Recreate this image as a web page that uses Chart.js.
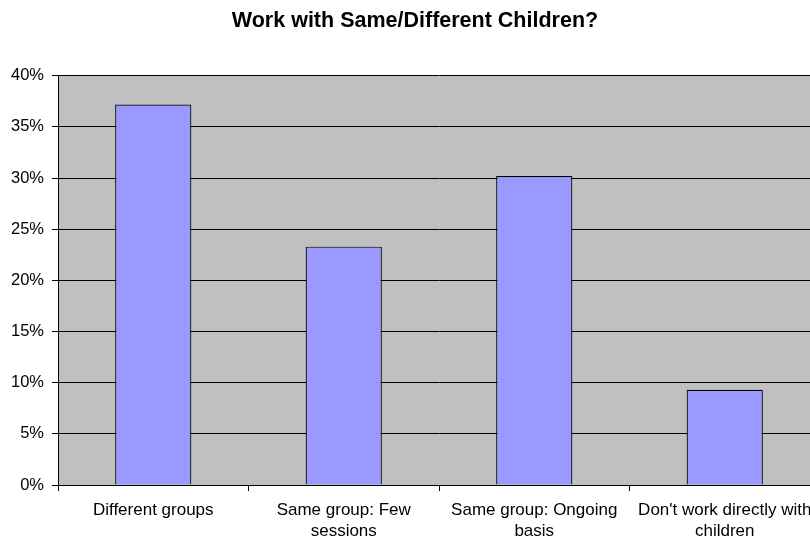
<!DOCTYPE html>
<html>
<head>
<meta charset="utf-8">
<script src="https://cdn.jsdelivr.net/npm/chart.js@4/dist/chart.umd.min.js"></script>
<style>
    html, body { margin: 0; padding: 0; background: #fff; overflow: hidden; }
    #wrap { width: 830px; height: 537px; }
</style>
</head>
<body>
<div id="wrap"><canvas id="childrenChart" width="830" height="537"></canvas></div>
<script>
var categories = [
    "Different groups",
    ["Same group: Few", "sessions"],
    ["Same group: Ongoing", "basis"],
    ["Don't work directly with", "children"]
];
var percentValues = [37.2, 23.3, 30.2, 9.3];
var yTicks = [0, 5, 10, 15, 20, 25, 30, 35, 40];

// grey plot background behind the bars
var plotBackground = {
    id: 'plotBackground',
    beforeDraw: function (chart) {
        var ctx = chart.ctx;
        var a = chart.chartArea;
        ctx.save();
        ctx.fillStyle = '#C0C0C0';
        ctx.fillRect(a.left, a.top, a.right - a.left, a.bottom - a.top);
        ctx.restore();
    }
};

Chart.defaults.font.family = "'Liberation Sans', Arial, sans-serif";
Chart.defaults.color = '#000';

var childrenChart = new Chart("childrenChart", {
    type: "bar",
    data: {
        labels: categories,
        datasets: [{
            label: "Percent",
            data: percentValues,
            backgroundColor: '#9999FF',
            borderColor: '#000',
            borderWidth: 1.2,
            categoryPercentage: 1,
            barPercentage: 0.4
        }]
    },
    options: {
        responsive: false,
        animation: false,
        layout: { padding: 0 },
        plugins: {
            legend: { display: false },
            tooltip: { enabled: false },
            title: {
                display: true,
                text: "Work with Same/Different Children?",
                color: '#000',
                font: { size: 21.5, weight: 'bold' },
                padding: { top: 8, bottom: 42 }
            }
        },
        scales: {
            x: {
                afterFit: function (scale) { scale.height = 52; },
                border: { display: true, color: '#000', width: 1 },
                grid: {
                    display: true,
                    drawOnChartArea: false,
                    drawTicks: true,
                    tickLength: 6,
                    offset: true,
                    color: '#000'
                },
                ticks: {
                    maxRotation: 0,
                    autoSkip: false,
                    padding: 9,
                    font: { size: 17, lineHeight: 1.22 }
                }
            },
            y: {
                min: 0,
                max: 40,
                afterFit: function (scale) { scale.width = 58; },
                afterBuildTicks: function (scale) {
                    scale.ticks = yTicks.map(function (v) { return { value: v }; });
                },
                border: { display: true, color: '#000', width: 1 },
                grid: {
                    color: '#000',
                    lineWidth: 1,
                    tickLength: 6
                },
                ticks: {
                    padding: 8,
                    font: { size: 16.5 },
                    callback: function (value) { return value + '%'; }
                }
            },
            // empty strip on the right so the plot ends at 820px
            rightGap: {
                position: 'right',
                afterFit: function (scale) { scale.width = 10; },
                grid: { display: false },
                border: { display: false },
                ticks: { display: false }
            }
        }
    },
    plugins: [plotBackground]
});
</script>
</body>
</html>
